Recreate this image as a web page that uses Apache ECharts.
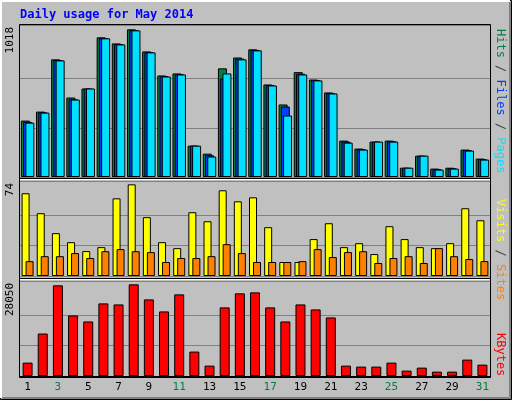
<!DOCTYPE html>
<html><head><meta charset="utf-8">
<script src="https://cdn.jsdelivr.net/npm/echarts@6/dist/echarts.min.js"></script>
<style>html,body{margin:0;padding:0;background:#c0c0c0}#c{width:512px;height:400px}</style>
</head><body><div id="c"></div>
<script>
const days = ['1','2','3','4','5','6','7','8','9','10','11','12','13','14','15','16','17','18','19','20','21','22','23','24','25','26','27','28','29','30','31'];
const weekend = ['3','4','10','11','17','18','24','25','31'];
const hits  = [389,451,811,548,610,963,921,1018,866,700,714,216,161,749,824,880,638,500,723,672,583,251,196,244,251,64,147,58,64,189,127];
const files = [380,446,806,536,610,958,916,1013,861,695,709,216,150,679,816,876,633,486,712,668,578,244,192,244,247,64,147,54,60,185,123];
const pages = [375,444,804,534,610,956,914,1011,859,693,707,216,141,714,811,873,631,424,707,666,576,237,189,244,244,64,147,51,58,182,120];
const visits = [66.8,50.7,34.6,27.3,20.1,23.3,62.7,74,47.5,27.3,22.5,51.5,44.2,69.2,60.3,63.5,39.4,11.3,11.3,29.8,42.6,23.3,26.5,17.7,40.2,29.8,23.3,22.5,26.5,54.7,45];
const sites  = [12,16,16,18.5,14.5,20,21.7,20,19.3,11.3,14.5,14.5,16,25.7,18.5,11.3,11.3,11.3,12,21.7,15.3,19.3,20,10.5,14.5,16,10.5,22.5,16,13.7,12];
const kbytes = [4095,13000,27740,18530,16690,22215,21900,28050,23440,19760,24980,7470,3170,20990,25290,25590,20990,16690,21900,20370,17920,3170,2870,2870,4095,1640,2560,1330,1330,5015,3480];
const maxLabels = ['1018','74','28050'];

const font = 'DejaVu Sans Mono';
const gridLine = {show:true, lineStyle:{color:['#808080','#808080','#808080','rgba(0,0,0,0)'], width:1}};
const grids = [
  {left:20,width:470,top:25,height:152},
  {left:20,width:470,top:181,height:95},
  {left:20,width:470,top:281,height:95}
];
const xAxes = grids.map((g,i)=>({type:'category',gridIndex:i,data:days,
  axisLine:{show:i===2,lineStyle:{color:'#000'}},axisTick:{show:false},
  axisLabel:{show:i===2,margin:6,fontFamily:font,fontSize:11,
    color:(v)=>weekend.includes(v)?'#008040':'#000'}}));
const yAxes = [
  {gridIndex:0,min:0,max:1048,interval:1018/3},
  {gridIndex:1,min:0,max:76.7,interval:74/3},
  {gridIndex:2,min:0,max:29070,interval:28050/3}
].map(a=>Object.assign(a,{type:'value',axisLabel:{show:false},axisLine:{show:false},axisTick:{show:false},splitLine:gridLine}));
const bs = {type:'bar',itemStyle:{borderColor:'#000',borderWidth:1},animation:false};
const series = [
  Object.assign({},bs,{name:'Hits',xAxisIndex:0,yAxisIndex:0,data:hits,barWidth:9,barGap:'-75%',itemStyle:{color:'#008040',borderColor:'#000',borderWidth:1}}),
  Object.assign({},bs,{name:'Files',xAxisIndex:0,yAxisIndex:0,data:files,barWidth:9,barGap:'-75%',itemStyle:{color:'#0040ff',borderColor:'#000',borderWidth:1}}),
  Object.assign({},bs,{name:'Pages',xAxisIndex:0,yAxisIndex:0,data:pages,barWidth:9,barGap:'-75%',itemStyle:{color:'#00e0ff',borderColor:'#000',borderWidth:1}}),
  Object.assign({},bs,{name:'Visits',xAxisIndex:1,yAxisIndex:1,data:visits,barWidth:8,barGap:'-50%',itemStyle:{color:'#ffff00',borderColor:'#000',borderWidth:1}}),
  Object.assign({},bs,{name:'Sites',xAxisIndex:1,yAxisIndex:1,data:sites,barWidth:8,barGap:'-50%',itemStyle:{color:'#ff8000',borderColor:'#000',borderWidth:1}}),
  Object.assign({},bs,{name:'KBytes',xAxisIndex:2,yAxisIndex:2,data:kbytes,barWidth:10,itemStyle:{color:'#ff0000',borderColor:'#000',borderWidth:1}})
];
const vt = (x,y,text,rich)=>({type:'text',x:x,y:y,rotation:Math.PI/2,z:10,
  style:{text:text,rich:rich,font:'12px "'+font+'"',fill:'#000',align:'right',verticalAlign:'middle'}});
const graphic = [
  {type:'rect',shape:{x:0.5,y:0.5,width:511,height:399},style:{fill:'none',stroke:'#000',lineWidth:1},z:0},
  {type:'polyline',shape:{points:[[1,398],[1,1],[510,1]]},style:{stroke:'#fff',lineWidth:2,fill:'none'},z:0},
  {type:'polyline',shape:{points:[[2,398],[510,398],[510,2]]},style:{stroke:'#808080',lineWidth:2,fill:'none'},z:0},
  {type:'rect',shape:{x:19.5,y:24.5,width:471,height:353},style:{fill:'none',stroke:'#000',lineWidth:1},z:0},
  {type:'polyline',shape:{points:[[20,178.5],[490,178.5]]},style:{stroke:'#000',lineWidth:1},z:0},
  {type:'polyline',shape:{points:[[20,179.5],[490,179.5]]},style:{stroke:'#fff',lineWidth:1},z:0},
  {type:'polyline',shape:{points:[[20,278.5],[490,278.5]]},style:{stroke:'#000',lineWidth:1},z:0},
  {type:'polyline',shape:{points:[[20,279.5],[490,279.5]]},style:{stroke:'#fff',lineWidth:1},z:0},
  {type:'text',x:20,y:9,style:{text:'Daily usage for May 2014',font:'bold 12px "'+font+'"',fill:'#0000ff'}},
  {type:'text',x:10,y:27,rotation:Math.PI/2,style:{text:maxLabels[0],font:'11px "'+font+'"',fill:'#000',align:'right',verticalAlign:'middle'}},
  {type:'text',x:10,y:183,rotation:Math.PI/2,style:{text:maxLabels[1],font:'11px "'+font+'"',fill:'#000',align:'right',verticalAlign:'middle'}},
  {type:'text',x:10,y:283,rotation:Math.PI/2,style:{text:maxLabels[2],font:'11px "'+font+'"',fill:'#000',align:'right',verticalAlign:'middle'}},
  {type:'text',x:500,y:29,rotation:-Math.PI/2,style:{text:'{h|Hits} / {f|Files} / {p|Pages}',font:'12px "'+font+'"',fill:'#404040',align:'left',verticalAlign:'middle',
    rich:{h:{fill:'#008040',font:'12px "'+font+'"'},f:{fill:'#0040ff',font:'12px "'+font+'"'},p:{fill:'#00e0ff',font:'12px "'+font+'"'}}}},
  {type:'text',x:500,y:199,rotation:-Math.PI/2,style:{text:'{v|Visits} / {s|Sites}',font:'12px "'+font+'"',fill:'#404040',align:'left',verticalAlign:'middle',
    rich:{v:{fill:'#ffff00',font:'12px "'+font+'"'},s:{fill:'#ff8000',font:'12px "'+font+'"'}}}},
  {type:'text',x:500,y:333,rotation:-Math.PI/2,style:{text:'KBytes',font:'12px "'+font+'"',fill:'#ff0000',align:'left',verticalAlign:'middle'}}
];
const chart = echarts.init(document.getElementById('c'));
chart.setOption({backgroundColor:'#c0c0c0',animation:false,grid:grids,xAxis:xAxes,yAxis:yAxes,series:series,graphic:graphic});
</script></body></html>
